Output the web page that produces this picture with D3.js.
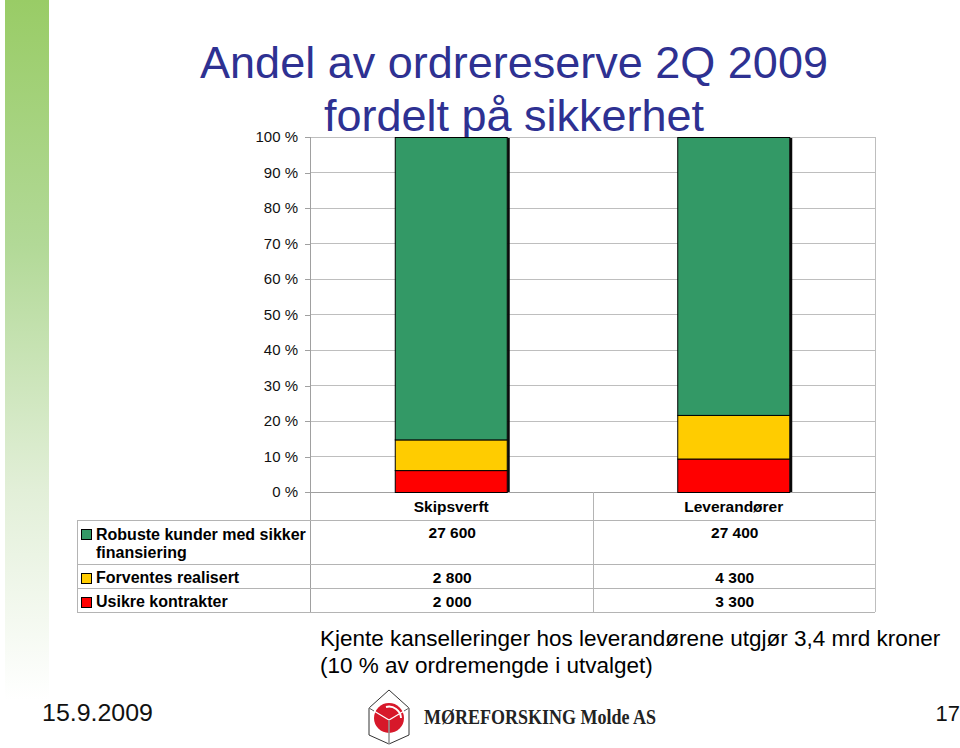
<!DOCTYPE html>
<html>
<head>
<meta charset="utf-8">
<script src="https://cdn.jsdelivr.net/npm/d3@7"></script>
<style>
  html, body { margin: 0; padding: 0; background: #fff; }
  svg { display: block; font-family: "Liberation Sans", Arial, sans-serif; }
</style>
</head>
<body>
<svg id="chart" width="960" height="748"></svg>
<script>
// ---- data ----
const categories = ["Skipsverft", "Leverandører"];
const seriesNames = ["Usikre kontrakter", "Forventes realisert", "Robuste kunder med sikker finansiering"];
const usikre = [2000, 3300];
const forventes = [2800, 4300];
const robuste = [27600, 27400];
const seriesColors = ["#FF0000", "#FFCC00", "#339966"];
const tickValues = [0, 0.1, 0.2, 0.3, 0.4, 0.5, 0.6, 0.7, 0.8, 0.9, 1.0];
const tickLabels = ["0 %", "10 %", "20 %", "30 %", "40 %", "50 %", "60 %", "70 %", "80 %", "90 %", "100 %"];
const valueLabels = [["27 600", "27 400"], ["2 800", "4 300"], ["2 000", "3 300"]];
const tableRowNames = [["Robuste kunder med sikker", "finansiering"], ["Forventes realisert"], ["Usikre kontrakter"]];

const svg = d3.select("#chart");

// left decorative gradient bar
const defs = svg.append("defs");
const lg = defs.append("linearGradient").attr("id", "sideGrad").attr("x1", 0).attr("y1", 0).attr("x2", 0).attr("y2", 1);
lg.append("stop").attr("offset", "0%").attr("stop-color", "#99CC66");
lg.append("stop").attr("offset", "35%").attr("stop-color", "#B2D997");
lg.append("stop").attr("offset", "70%").attr("stop-color", "#E2EFD8");
lg.append("stop").attr("offset", "100%").attr("stop-color", "#FFFFFF");
svg.append("rect").attr("x", 5).attr("y", 0).attr("width", 44).attr("height", 700).attr("fill", "url(#sideGrad)");

// title
const title = svg.append("text").attr("text-anchor", "middle").attr("fill", "#2E3192")
  .style("font-size", "45px");
title.append("tspan").attr("x", 514).attr("y", 78).text("Andel av ordrereserve 2Q 2009");
title.append("tspan").attr("x", 514).attr("y", 131).text("fordelt på sikkerhet");

// scales
const plotL = 310, plotR = 875, plotT = 137, plotB = 492;
const x = d3.scaleBand().domain(categories).range([plotL, plotR]).paddingInner(0.6).paddingOuter(0.3);
const y = d3.scaleLinear().domain([0, 1]).range([plotB, plotT]);

// gridlines
svg.append("g").selectAll("line").data(tickValues.slice(1)).join("line")
  .attr("x1", plotL).attr("x2", plotR)
  .attr("y1", d => y(d)).attr("y2", d => y(d))
  .attr("stroke", "#BEBEBE").attr("stroke-width", 1).attr("shape-rendering", "crispEdges");
// right border of plot
svg.append("line").attr("x1", plotR).attr("x2", plotR).attr("y1", plotT).attr("y2", 612)
  .attr("stroke", "#BEBEBE").attr("shape-rendering", "crispEdges");

// y axis
const yAxis = d3.axisLeft(y).tickValues(tickValues).tickFormat((d, i) => tickLabels[i]).tickSize(5).tickPadding(7);
const gy = svg.append("g").attr("transform", `translate(${plotL},0)`).call(yAxis);
gy.select(".domain").remove();
gy.selectAll(".tick line").attr("stroke", "#A0A0A0").attr("shape-rendering", "crispEdges");
gy.selectAll(".tick text").style("font-size", "15px").attr("fill", "#111")
  .style("font-family", "'Liberation Sans', Arial, sans-serif");
svg.append("line").attr("x1", plotL).attr("x2", plotL).attr("y1", plotT).attr("y2", 612)
  .attr("stroke", "#A0A0A0").attr("shape-rendering", "crispEdges");
// baseline
svg.append("line").attr("x1", plotL).attr("x2", plotR).attr("y1", plotB).attr("y2", plotB)
  .attr("stroke", "#A0A0A0").attr("shape-rendering", "crispEdges");

// stacked percent bars
const rows = categories.map((c, i) => ({ cat: c, u: usikre[i], f: forventes[i], r: robuste[i], tot: usikre[i] + forventes[i] + robuste[i] }));
const stack = d3.stack().keys(["u", "f", "r"]).value((d, k) => d[k] / d.tot);
const stacked = stack(rows);

// shadow on right edge
svg.append("g").selectAll("rect").data(rows).join("rect")
  .attr("x", d => x(d.cat) + x.bandwidth() - 0.5).attr("width", 2.5)
  .attr("y", y(1) + 1).attr("height", y(0) - y(1) - 1)
  .attr("fill", "#0a0a0a");

svg.append("g").selectAll("g").data(stacked).join("g")
  .attr("fill", (d, i) => seriesColors[i])
  .selectAll("rect").data(d => d).join("rect")
  .attr("x", d => x(d.data.cat) + 0.5)
  .attr("width", x.bandwidth() - 1)
  .attr("y", d => y(d[1]) + 0.5)
  .attr("height", d => y(d[0]) - y(d[1]))
  .attr("stroke", "#000").attr("stroke-width", 1);

// data table
const tableL = 77;
const rowLines = [520, 564, 588, 612];
svg.append("g").selectAll("line").data(rowLines).join("line")
  .attr("x1", tableL).attr("x2", plotR).attr("y1", d => d).attr("y2", d => d)
  .attr("stroke", "#B4B4B4").attr("shape-rendering", "crispEdges");
svg.append("line").attr("x1", tableL).attr("x2", tableL).attr("y1", 520).attr("y2", 612)
  .attr("stroke", "#B4B4B4").attr("shape-rendering", "crispEdges");
const midX = (plotL + plotR) / 2 + 1;
svg.append("line").attr("x1", midX).attr("x2", midX).attr("y1", plotB).attr("y2", 612)
  .attr("stroke", "#B4B4B4").attr("shape-rendering", "crispEdges");

// header labels
svg.append("g").selectAll("text").data(categories).join("text")
  .attr("x", d => x(d) + x.bandwidth() / 2).attr("y", 512)
  .attr("text-anchor", "middle").style("font-size", "15.5px").style("font-weight", "bold")
  .text(d => d);

// legend keys + row names
const keyColors = ["#339966", "#FFCC00", "#FF0000"];
const rowBaselines = [[540, 558], [583], [607]];
const keyTops = [529, 573, 597];
keyColors.forEach((c, i) => {
  svg.append("rect").attr("x", 81.5).attr("y", keyTops[i] + 0.5).attr("width", 10).attr("height", 10)
    .attr("fill", c).attr("stroke", "#000").attr("stroke-width", 1);
  tableRowNames[i].forEach((t, j) => {
    svg.append("text").attr("x", 96).attr("y", rowBaselines[i][j])
      .style("font-size", "16px").style("font-weight", "bold").text(t);
  });
});

// values
const valBaselines = [538, 583, 607];
valueLabels.forEach((vals, i) => {
  vals.forEach((v, j) => {
    svg.append("text").attr("x", x(categories[j]) + x.bandwidth() / 2 + 1).attr("y", valBaselines[i])
      .attr("text-anchor", "middle").style("font-size", "15.5px").style("font-weight", "bold").text(v);
  });
});

// footnote
const note = svg.append("text").style("font-size", "22.5px").attr("fill", "#000");
note.append("tspan").attr("x", 320).attr("y", 646).text("Kjente kanselleringer hos leverandørene utgjør 3,4 mrd kroner");
note.append("tspan").attr("x", 320).attr("y", 673).text("(10 % av ordremengde i utvalget)");

// footer
svg.append("text").attr("x", 42).attr("y", 721).style("font-size", "24px").attr("fill", "#111")
  .attr("textLength", 111).attr("lengthAdjust", "spacingAndGlyphs").text("15.9.2009");
svg.append("text").attr("x", 960).attr("y", 721).attr("text-anchor", "end").style("font-size", "22px").attr("fill", "#111").text("17");

// logo
const logo = svg.append("g");
logo.append("path").attr("d", "M389,690 L409,708 L409,735 L389,744 L369,735 L369,708 Z")
  .attr("fill", "#fff").attr("stroke", "#333").attr("stroke-width", 1);
logo.append("circle").attr("cx", 389).attr("cy", 718).attr("r", 15).attr("fill", "#D7182A");
logo.append("path").attr("d", "M369,708 L389,720 L409,708 M389,720 L389,744").attr("fill", "none").attr("stroke", "#fff").attr("stroke-width", 1.2);
logo.append("path").attr("d", "M389,720 L389,744 M369,708 L374,711 M409,708 L404,711").attr("fill", "none").attr("stroke", "#333").attr("stroke-width", 0.8);
logo.append("path").attr("d", "M386,707 A12,12 0 0 1 401,718").attr("fill", "none").attr("stroke", "#fff").attr("stroke-width", 2);
svg.append("text").attr("x", 424).attr("y", 724)
  .style("font-family", "'Liberation Serif', 'DejaVu Serif', serif").style("font-weight", "bold").style("font-size", "21px")
  .attr("fill", "#222").attr("textLength", 232).attr("lengthAdjust", "spacingAndGlyphs")
  .text("MØREFORSKING Molde AS");
</script>
</body>
</html>
